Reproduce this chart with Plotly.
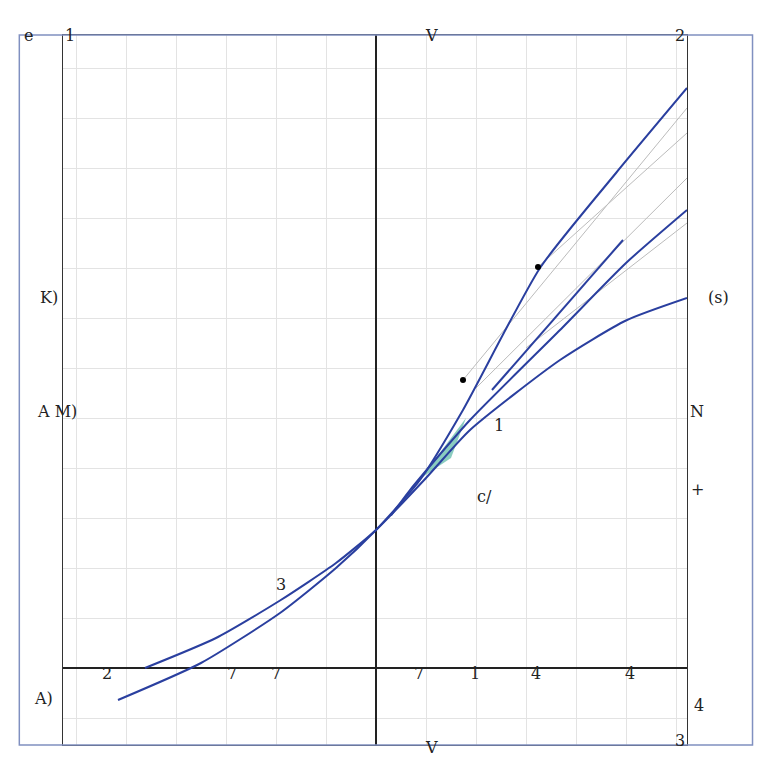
import plotly.graph_objects as go

# curves (data units: grid cell = 1)
a_x = [-5.16, -3.5, -1.92, -0.8, 0, 0.88, 1.74, 3.28, 4.8, 6.22]
a_y = [-0.64, 0.1, 1.1, 2.0, 2.76, 3.76, 5.16, 8.0, 9.9, 11.6]
b_x = [-4.62, -3.2, -1.92, -0.8, 0, 1.0, 1.88, 3.68, 5.0, 6.22]
b_y = [0.0, 0.6, 1.35, 2.1, 2.76, 3.8, 4.76, 6.16, 6.95, 7.4]
c_x = [0.3, 0.68, 1.88, 3.68, 5.0, 6.22]
c_y = [3.05, 3.56, 4.96, 6.76, 8.1, 9.16]
d_x = [2.32, 4.94]
d_y = [5.56, 8.56]
pt_x = [1.74, 3.24, 6.78]
pt_y = [5.76, 8.02, 11.8]
gray_x0 = [1.74, 3.24, 2.0, 3.0]
gray_y0 = [5.76, 8.02, 5.6, 6.4]
gray_x1 = [6.22, 6.22, 6.22, 6.22]
gray_y1 = [11.2, 10.7, 9.8, 8.9]
fill_x = [0.9, 1.8, 1.5, 0.9]
fill_y = [3.8, 5.0, 4.2, 3.8]

blue = "#2a3f9f"
fig = go.Figure()
for x0, y0, x1, y1 in zip(gray_x0, gray_y0, gray_x1, gray_y1):
    fig.add_trace(go.Scatter(x=[x0, x1], y=[y0, y1], mode="lines",
                             line=dict(color="#bbbbbb", width=1)))
fig.add_trace(go.Scatter(x=fill_x, y=fill_y, fill="toself", mode="lines",
                         line=dict(width=0), fillcolor="rgba(60,170,150,0.6)"))
for xs, ys in [(a_x, a_y), (b_x, b_y), (c_x, c_y), (d_x, d_y)]:
    fig.add_trace(go.Scatter(x=xs, y=ys, mode="lines",
                             line=dict(color=blue, width=2, shape="spline", smoothing=0.6)))
fig.add_trace(go.Scatter(x=pt_x, y=pt_y, mode="markers",
                         marker=dict(color="black", size=6), cliponaxis=False))

fig.update_layout(
    width=768, height=768, showlegend=False,
    paper_bgcolor="white", plot_bgcolor="white",
    margin=dict(l=55, r=89, t=27, b=31),
    xaxis=dict(range=[-6.26, 6.22], dtick=1, tick0=0, showgrid=True,
               gridcolor="#e3e3e3", zeroline=True, zerolinecolor="#222",
               zerolinewidth=1.5, showticklabels=False, showline=True,
               linecolor="#333", mirror=True),
    yaxis=dict(range=[-1.54, 12.66], dtick=1, tick0=0, showgrid=True,
               gridcolor="#e3e3e3", zeroline=True, zerolinecolor="#222",
               zerolinewidth=1.5, showticklabels=False, showline=True,
               linecolor="#333", mirror=True),
    font=dict(family="DejaVu Serif", size=16, color="#222"),
)
fig.add_shape(type="rect", xref="paper", yref="paper", x0=-0.07, x1=1.105,
              y0=0.0, y1=1.0, line=dict(color="#8090c0", width=1.5))
# (x, y from top as fraction of plot) label positions
labels = [(-0.045, 0.53, "A M)"), (-0.04, 0.37, "K)"), (1.03, 0.53, "N"),
          (1.03, 0.64, "+"), (1.07, 0.37, "(s)"), (-0.05, 0.95, "A)"),
          (1.03, 0.96, "4"), (0.71, 0.55, "1"), (0.69, 0.65, "c/"),
          (0.06, 0.915, "2"), (0.26, 0.915, "7"), (0.33, 0.915, "7"),
          (0.57, 0.915, "7"), (0.66, 0.915, "1"), (0.77, 0.915, "4"),
          (0.92, 0.915, "4"), (0.59, 1.02, "V"), (0.59, -0.015, "V"),
          (1.0, -0.015, "2"), (1.0, 1.01, "3"), (0.0, -0.015, "1"),
          (-0.065, -0.015, "e"), (0.35, 0.79, "3")]
for x, y, t in labels:
    fig.add_annotation(x=x, y=1 - y, xref="paper", yref="paper",
                       text=t, showarrow=False)
fig.write_html("out.html")
